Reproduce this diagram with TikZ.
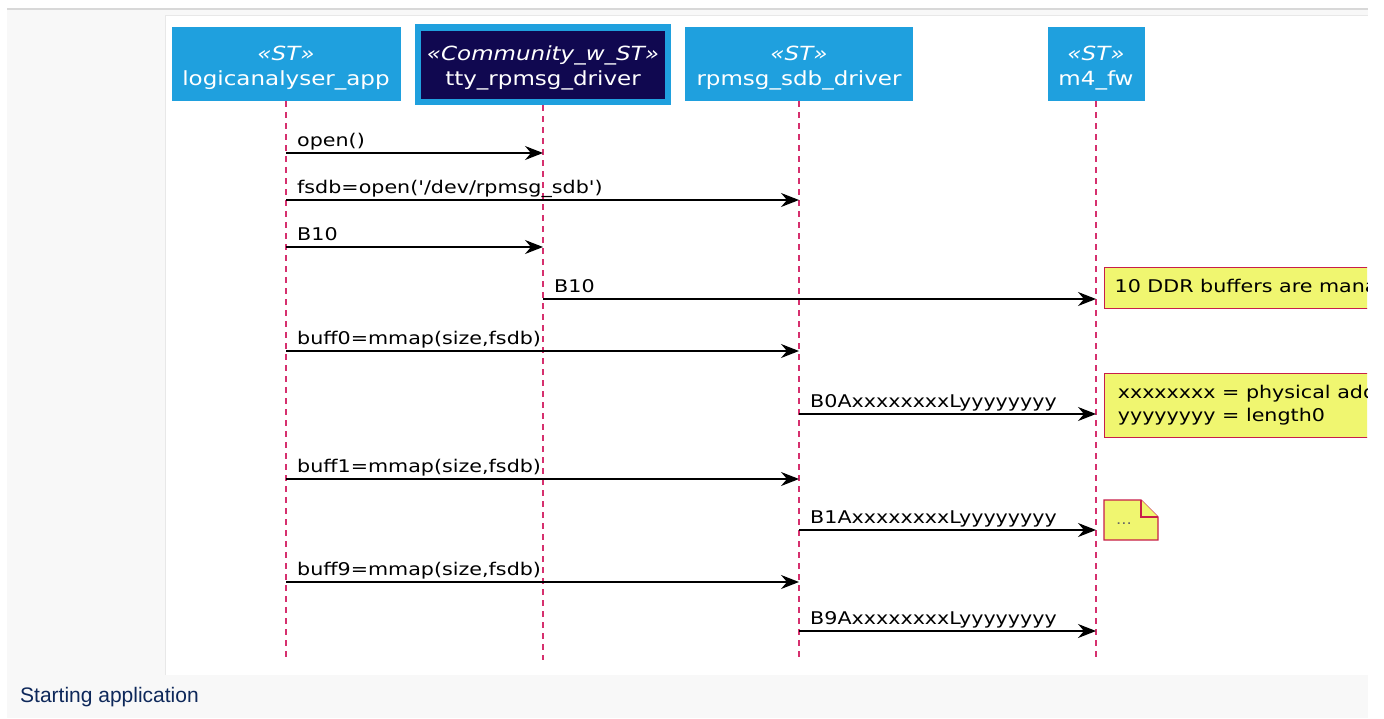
\documentclass[tikz,border=0pt]{standalone}
\usepackage{fontspec}
\setmainfont{DejaVu Sans}[FakeStretch=1.18, Ligatures=TeXOff]
\newfontfamily\capfont{Liberation Sans}
\usetikzlibrary{arrows.meta}

\definecolor{stblue}{RGB}{31,160,222}
\definecolor{stnavy}{RGB}{16,8,80}
\definecolor{lifepink}{RGB}{214,48,110}
\definecolor{noteyellow}{RGB}{240,246,112}
\definecolor{noteedge}{RGB}{200,30,74}
\definecolor{panelgray}{RGB}{248,248,248}
\definecolor{framegray}{RGB}{216,216,216}
\definecolor{capnavy}{RGB}{14,40,90}

\tikzset{
  part/.style={fill=stblue, text=white, align=center, minimum height=74pt,
    inner sep=0pt, font=\fontsize{19.5}{25}\selectfont},
  life/.style={draw=lifepink, line width=1.5pt, dash pattern=on 6pt off 5pt},
  msg/.style={line width=1.5pt, -{Stealth[length=18pt,width=14pt,inset=6pt]}},
  msglbl/.style={anchor=base west, inner sep=0pt, xshift=11pt, yshift=7pt,
    font=\fontsize{17.5}{21}\selectfont},
  note/.style={draw=noteedge, fill=noteyellow, line width=1.3pt, anchor=north west,
    align=left, inner xsep=10pt, font=\fontsize{17.5}{23}\selectfont}
}

\begin{document}
\begin{tikzpicture}[x=1pt, y=-1pt]
\useasboundingbox (0,0) rectangle (1384,718);

% frame
\fill[panelgray] (7,9) rectangle (1368,718);
\draw[framegray, line width=1.2pt] (7,9) -- (1368,9);
\fill[white] (165,15) rectangle (1368,675);
\draw[framegray!60, line width=0.8pt] (1368,15) -- (165,15) -- (165,675);
\node[anchor=base west, inner sep=0pt, text=capnavy, font=\capfont\fontsize{21}{25}\selectfont]
  (caption) at (20,702) {Starting application};

% participants
\node[part, minimum width=229pt] (app) at (286,64) {\rule{0pt}{22pt}{\itshape «ST»}\\logicanalyser\_app};
\node[part, fill=stnavy, draw=stblue, line width=6.5pt, minimum width=250pt, minimum height=74.5pt]
  (tty) at (543,64.5) {\rule{0pt}{22pt}{\itshape «Community\_w\_ST»}\\tty\_rpmsg\_driver};
\node[part, minimum width=228pt] (sdb) at (799,64) {\rule{0pt}{22pt}{\itshape «ST»}\\rpmsg\_sdb\_driver};
\node[part, minimum width=97pt] (m4) at (1096,64) {\rule{0pt}{22pt}{\itshape «ST»}\\m4\_fw};

\coordinate (append) at (286,660);
\coordinate (ttyend) at (543,660);
\coordinate (sdbend) at (799,660);
\coordinate (m4end) at (1096,660);

\draw[life] (app.south) -- (append);
\draw[life] (tty.south) -- (ttyend);
\draw[life] (sdb.south) -- (sdbend);
\draw[life] (m4.south) -- (m4end);

% message ends
\coordinate (app1) at (286,153); \coordinate (tty1) at (543,153);
\coordinate (app2) at (286,200); \coordinate (sdb2) at (799,200);
\coordinate (app3) at (286,247); \coordinate (tty3) at (543,247);
\coordinate (tty4) at (543,299); \coordinate (m44) at (1096,299);
\coordinate (app5) at (286,351); \coordinate (sdb5) at (799,351);
\coordinate (sdb6) at (799,414); \coordinate (m46) at (1096,414);
\coordinate (app7) at (286,479); \coordinate (sdb7) at (799,479);
\coordinate (sdb8) at (799,530); \coordinate (m48) at (1096,530);
\coordinate (app9) at (286,582); \coordinate (sdb9) at (799,582);
\coordinate (sdb10) at (799,631); \coordinate (m410) at (1096,631);

\draw[msg] (app1) -- (tty1);
\draw[msg] (app2) -- (sdb2);
\draw[msg] (app3) -- (tty3);
\draw[msg] (tty4) -- (m44);
\draw[msg] (app5) -- (sdb5);
\draw[msg] (sdb6) -- (m46);
\draw[msg] (app7) -- (sdb7);
\draw[msg] (sdb8) -- (m48);
\draw[msg] (app9) -- (sdb9);
\draw[msg] (sdb10) -- (m410);

\node[msglbl] (lbl1) at (app1) {open()};
\node[msglbl] (lbl2) at (app2) {fsdb=open('/dev/rpmsg\_sdb')};
\node[msglbl] (lbl3) at (app3) {B10};
\node[msglbl] (lbl4) at (tty4) {B10};
\node[msglbl] (lbl5) at (app5) {buff0=mmap(size,fsdb)};
\node[msglbl] (lbl6) at (sdb6) {B0AxxxxxxxxLyyyyyyyy};
\node[msglbl] (lbl7) at (app7) {buff1=mmap(size,fsdb)};
\node[msglbl] (lbl8) at (sdb8) {B1AxxxxxxxxLyyyyyyyy};
\node[msglbl] (lbl9) at (app9) {buff9=mmap(size,fsdb)};
\node[msglbl] (lbl10) at (sdb10) {B9AxxxxxxxxLyyyyyyyy};

% notes, cut at the frame edge
\begin{scope}
\clip (165,15) rectangle (1367,675);
\node[note, minimum width=320pt, minimum height=41pt] (note1) at (1104,267)
  {10 DDR buffers are managed};
\node[note, minimum width=340pt, minimum height=64pt] (note2) at (1104,373)
  {xxxxxxxx = physical address0\\yyyyyyyy = length0};
\end{scope}

\draw[draw=noteedge, fill=noteyellow, line width=1.3pt]
  (1104,500) -- (1141,500) -- (1158,517) -- (1158,540) -- (1104,540) -- cycle;
\draw[draw=noteedge, fill=noteyellow, line width=1.3pt]
  (1141,500) -- (1141,517) -- (1158,517);
\node[text=black!60, inner sep=0pt, font=\fontsize{14}{16}\selectfont] (note3) at (1124,524) {...};
\end{tikzpicture}
\end{document}
